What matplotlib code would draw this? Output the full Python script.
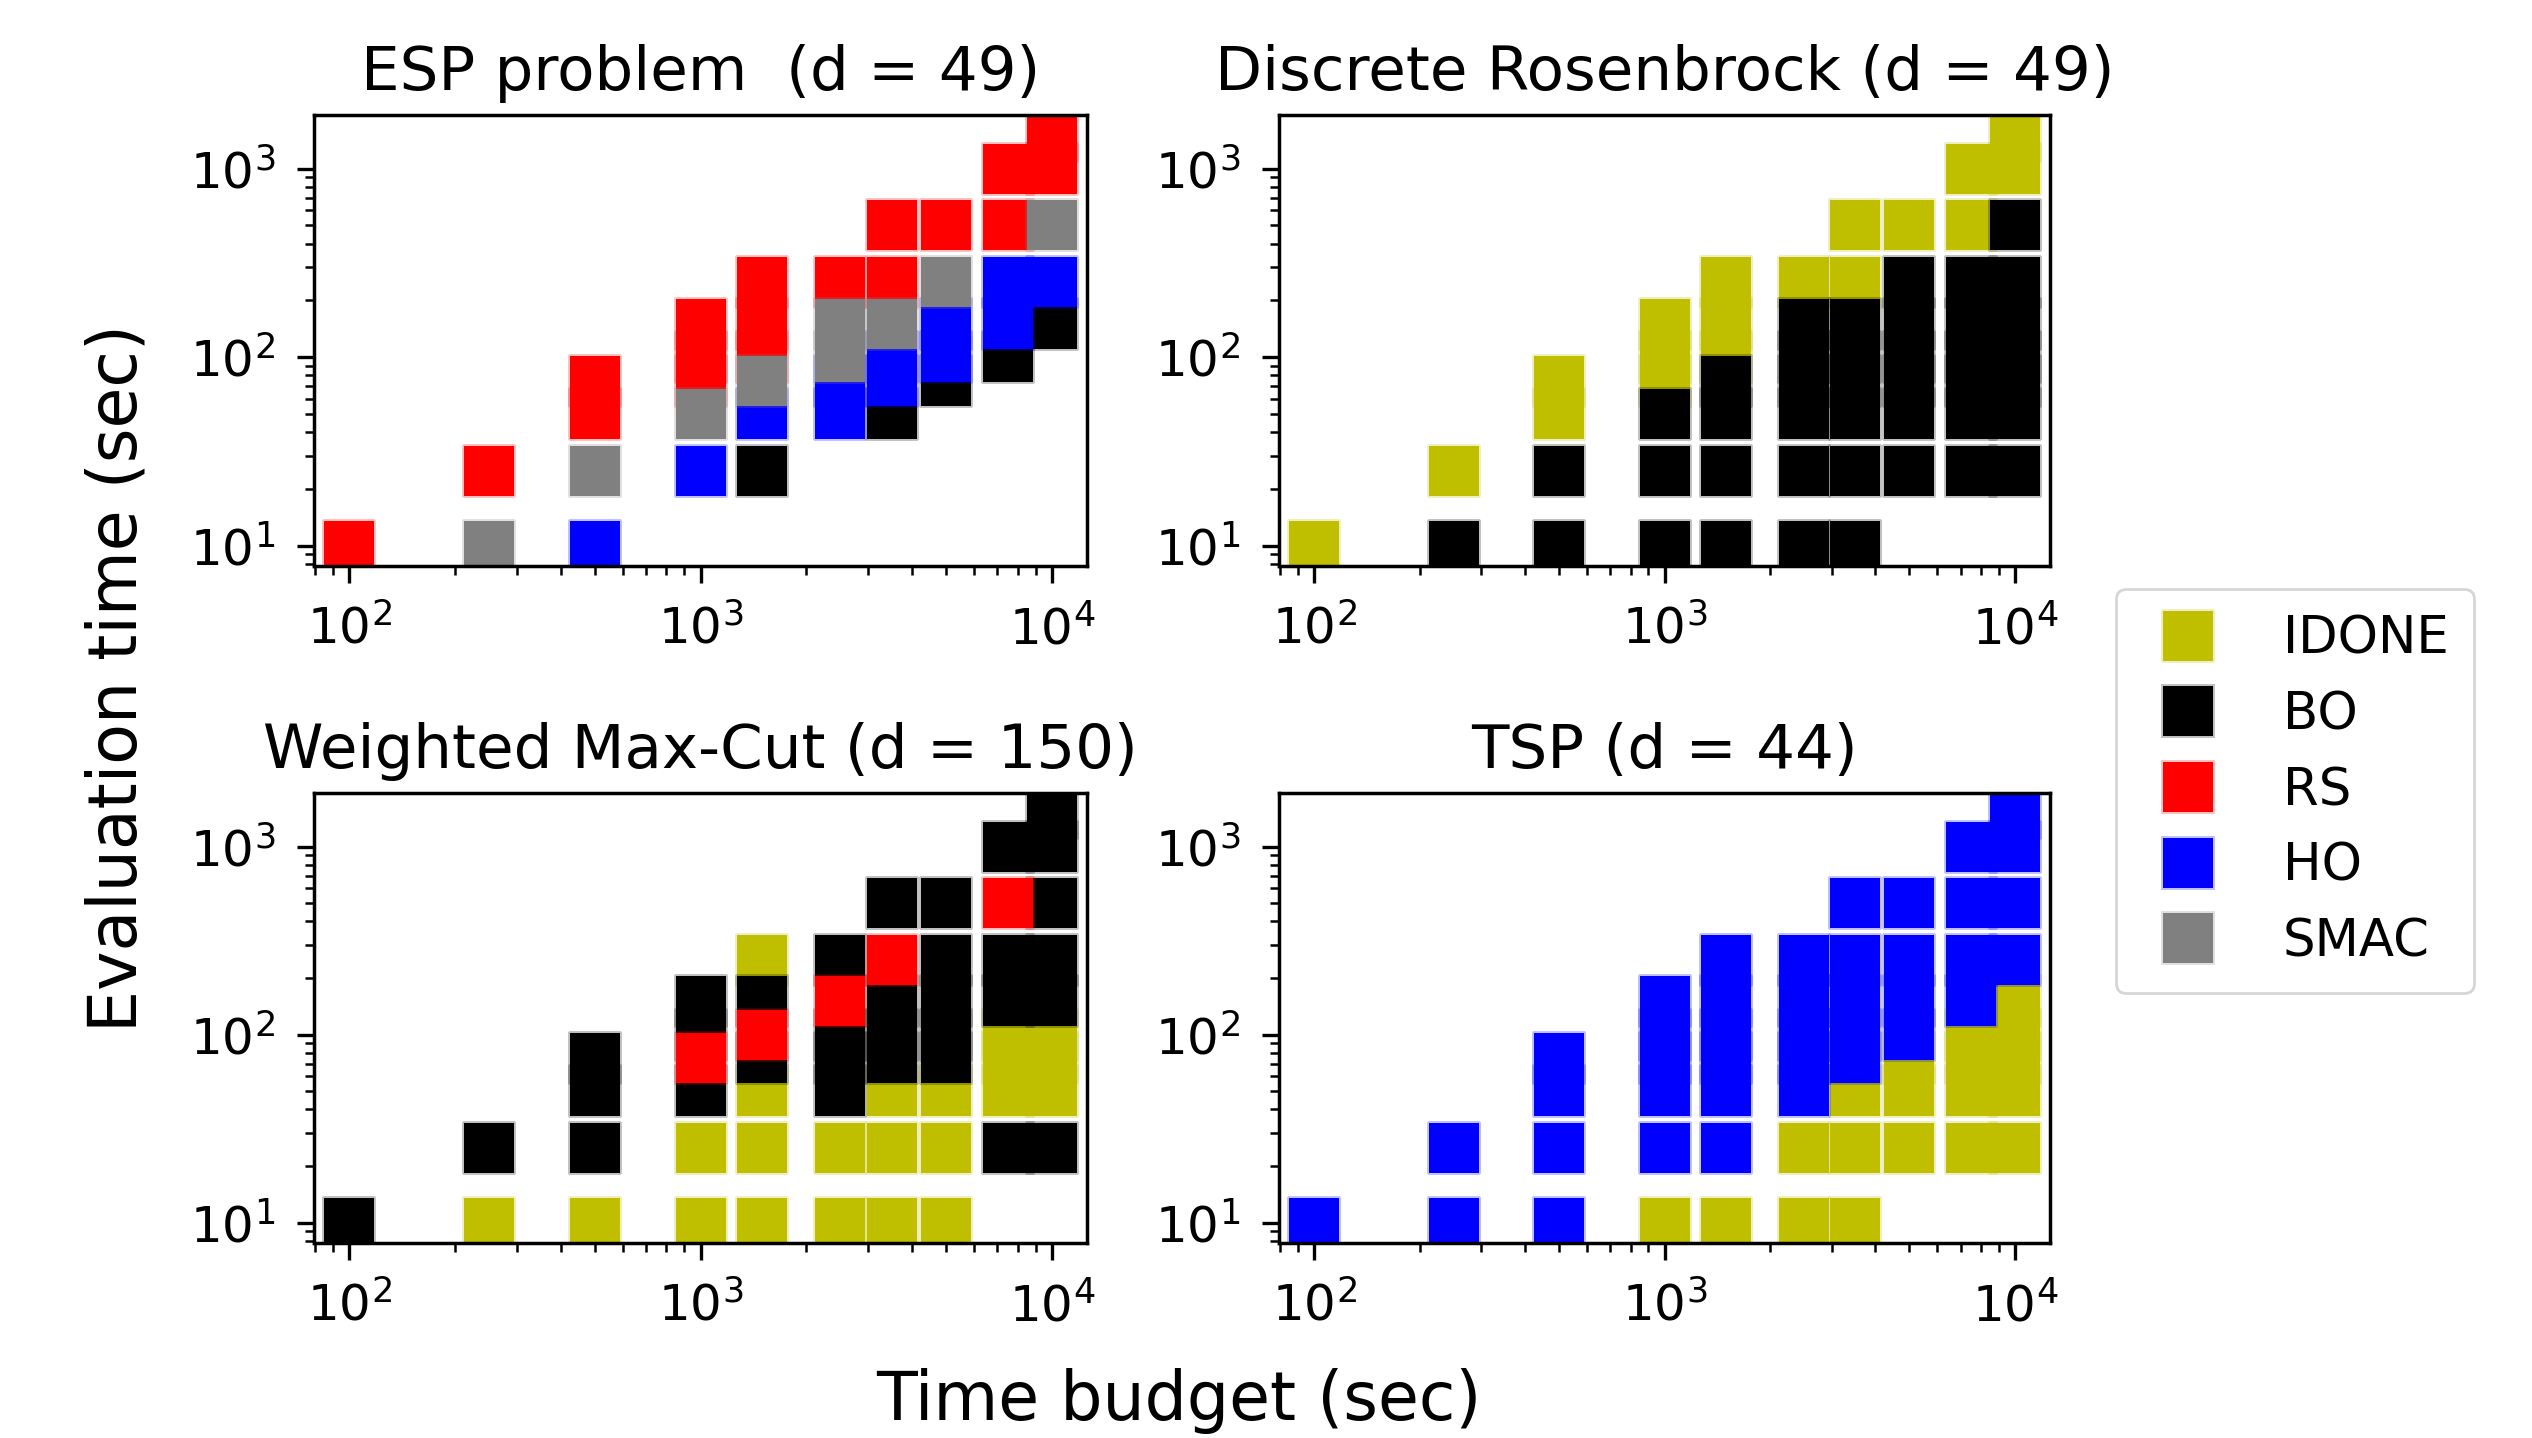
import matplotlib.pyplot as plt
from matplotlib.colors import to_rgba
from matplotlib.lines import Line2D

budgets = [100, 250, 500, 1000, 1500, 2500, 3500, 5000, 7500, 10000]
eval_times = [10, 25, 50, 75, 100, 150, 250, 500, 1000, 1500]

methods = ["IDONE", "BO", "RS", "HO", "SMAC"]
codes = ["I", "B", "R", "H", "S"]
colors = ["y", "k", "r", "b", "gray"]

# best method per cell: one row per budget, one char per eval time, "." = not run
esp_best = [
    "R.........",
    "SR........",
    "HSRR......",
    ".HSRRR....",
    ".BHSRRR...",
    "..HHSSR...",
    "..BHHSRR..",
    "...BHHSR..",
    "....BHHRR.",
    ".....BHSRR",
]
rosenbrock_best = [
    "I.........",
    "BI........",
    "BBII......",
    "BBBIII....",
    "BBBBIII...",
    "BBBBBBI...",
    "BBBBBBII..",
    ".BBBBBBI..",
    ".BBBBBBII.",
    ".BBBBBBBII",
]
maxcut_best = [
    "B.........",
    "IB........",
    "IBBB......",
    "IIBRBB....",
    "IIIBRBI...",
    "IIBBBRB...",
    "IIIBBBRB..",
    "IIIBBBBB..",
    ".BIIIBBRB.",
    ".BIIIBBBBB",
]
tsp_best = [
    "H.........",
    "HH........",
    "HHHH......",
    "IHHHHH....",
    "IHHHHHH...",
    "IIHHHHH...",
    "IIIHHHHH..",
    ".IIIHHHH..",
    ".IIIIHHHH.",
    ".IIIIIHHHH",
]

titles = ["ESP problem  (d = 49)", "Discrete Rosenbrock (d = 49)",
          "Weighted Max-Cut (d = 150)", "TSP (d = 44)"]
grids = [esp_best, rosenbrock_best, maxcut_best, tsp_best]

fig = plt.figure(figsize=(12.66, 7.19), dpi=200)
W, H = 2532, 1438
boxes = [(314, 115, 1087, 566), (1279, 115, 2050, 566),
         (314, 793, 1087, 1243), (1279, 793, 2050, 1243)]

marker_pt = 18.0

for box, title, grid in zip(boxes, titles, grids):
    x0, y0, x1, y1 = box
    ax = fig.add_axes([x0 / W, 1 - y1 / H, (x1 - x0) / W, (y1 - y0) / H])
    for code, color in zip(codes, colors):
        xs, ys = [], []
        for b, row in zip(budgets, grid):
            for t, c in zip(eval_times, row):
                if c == code:
                    xs.append(b)
                    ys.append(t)
        if xs:
            ax.scatter(xs, ys, marker="s", s=marker_pt ** 2, c=color,
                       edgecolors=[to_rgba(color, 0.25)], linewidths=1.4)
    ax.set_xscale("log")
    ax.set_yscale("log")
    ax.set_title(title, fontsize=22, pad=9)
    ax.tick_params(which="major", labelsize=18, length=6, width=1.2, pad=8)
    ax.tick_params(which="minor", length=3.2, width=0.9)
    for sp in ax.spines.values():
        sp.set_linewidth(1.25)

fig.text(1179 / W, 1 - 1401 / H, "Time budget (sec)", fontsize=24, ha="center", va="center")
fig.text(118 / W, 1 - 678 / H, "Evaluation time (sec)", fontsize=24, ha="center",
         va="center", rotation=90)

handles = [Line2D([], [], marker="s", linestyle="", color=c, markersize=marker_pt,
                  markeredgecolor=to_rgba(c, 0.25), markeredgewidth=1.4)
           for c in colors]
fig.legend(handles, methods, loc="center left", bbox_to_anchor=(2116 / W, 1 - 791 / H),
           borderaxespad=0, fontsize=18.5, handlelength=1.8, handletextpad=0.95,
           labelspacing=0.5, borderpad=0.5)

fig.savefig("out.png", dpi=200)
